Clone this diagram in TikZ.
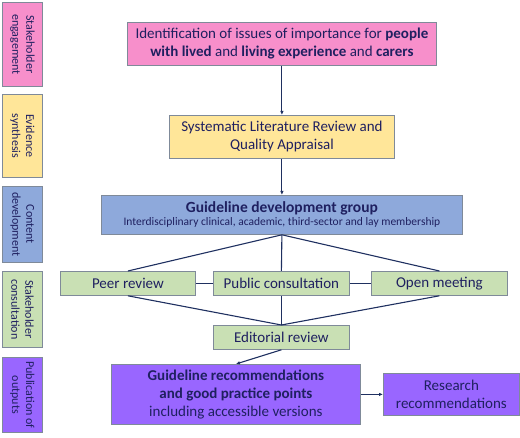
\documentclass[tikz,border=0pt]{standalone}
\usepackage{fontspec}
\setmainfont{Carlito}
\usetikzlibrary{arrows.meta}
\definecolor{cpink}{HTML}{F78FCB}
\definecolor{cyellow}{HTML}{FFE699}
\definecolor{cblue}{HTML}{8EA9DB}
\definecolor{cgreen}{HTML}{C9E0B4}
\definecolor{cpurple}{HTML}{9966FF}
\definecolor{cnavy}{HTML}{1F2060}
\definecolor{cline}{HTML}{1F3060}
\definecolor{cborder}{HTML}{7F8A99}
\tikzset{
  box/.style={draw=cborder, line width=0.8pt, inner sep=0pt, text=cnavy, align=center, anchor=north west},
  sidebox/.style={box},
  sidelabel/.style={rotate=-90, text=cnavy, align=center, font=\fontsize{12}{14}\selectfont},
  conn/.style={draw=cline, line width=1.1pt},
  arr/.style={conn, -{Latex[length=4pt,width=3.5pt]}},
}
\begin{document}
\begin{tikzpicture}[x=1pt,y=-1pt]
\useasboundingbox (0,0) rectangle (520,438);
% side labels
\node[sidebox, fill=cpink, minimum width=40, minimum height=84] (s1) at (2,2) {};
\node[sidelabel] (s1t) at (s1.center) {Stakeholder\\engagement};
\node[sidebox, fill=cyellow, minimum width=40, minimum height=83] (s2) at (2,94) {};
\node[sidelabel] (s2t) at (s2.center) {Evidence\\synthesis};
\node[sidebox, fill=cblue, minimum width=40, minimum height=76] (s3) at (2,186) {};
\node[sidelabel] (s3t) at (s3.center) {Content\\development};
\node[sidebox, fill=cgreen, minimum width=40, minimum height=76] (s4) at (2,271) {};
\node[sidelabel] (s4t) at (s4.center) {Stakeholder\\consultation};
\node[sidebox, fill=cpurple, minimum width=40, minimum height=75] (s5) at (2,357) {};
\node[sidelabel] (s5t) at (s5.center) {Publication of\\outputs};
% main boxes
\node[box, fill=cpink, minimum width=309, minimum height=43, font=\fontsize{15}{18}\selectfont] (id) at (127,22)
  {Identification of issues of importance for \textbf{people}\\\textbf{with lived} and \textbf{living experience} and \textbf{carers}};
\node[box, fill=cyellow, minimum width=225, minimum height=43, font=\fontsize{15}{18}\selectfont] (slr) at (169,115)
  {Systematic Literature Review and\\Quality Appraisal};
\node[box, fill=cblue, minimum width=361, minimum height=39] (gdg) at (101,195)
  {{\fontsize{15.5}{17}\selectfont\textbf{Guideline development group}}\\[1pt]{\fontsize{11.5}{13}\selectfont Interdisciplinary clinical, academic, third-sector and lay membership}};
\node[box, fill=cgreen, minimum width=135, minimum height=24, font=\fontsize{15}{17}\selectfont] (peer) at (60,271) {Peer review};
\node[box, fill=cgreen, minimum width=136, minimum height=24, font=\fontsize{15}{17}\selectfont] (pub) at (213,271) {Public consultation};
\node[box, fill=cgreen, minimum width=136, minimum height=24, font=\fontsize{15}{17}\selectfont] (open) at (371,271) {Open meeting};
\node[box, fill=cgreen, minimum width=136, minimum height=24, font=\fontsize{15}{17}\selectfont] (edit) at (213,325) {Editorial review};
\node[box, fill=cpurple, minimum width=249, minimum height=60, font=\fontsize{15}{18}\selectfont] (rec) at (111,364)
  {\textbf{Guideline recommendations}\\\textbf{and good practice points}\\including accessible versions};
\node[box, fill=cpurple, minimum width=136, minimum height=42, font=\fontsize{15}{18}\selectfont] (res) at (383,373)
  {Research\\recommendations};
% connectors
\draw[arr] (id.south) -- (slr.north);
\draw[arr] (slr.south) -- (slr.south |- gdg.north);
\draw[conn] (gdg.south) -- (peer.north);
\draw[conn] (gdg.south) -- (pub.north);
\draw[conn] (gdg.south) -- (open.north);
\draw[conn] (peer.east) -- (pub.west);
\draw[conn] (pub.east) -- (open.west);
\draw[conn] (peer.south) -- (edit.north);
\draw[conn] (pub.south) -- (edit.north);
\draw[conn] (open.south) -- (edit.north);
\draw[arr] (edit.south) -- (rec.north);
\draw[arr] (rec.east) -- (res.west |- rec.east);
\end{tikzpicture}
\end{document}
